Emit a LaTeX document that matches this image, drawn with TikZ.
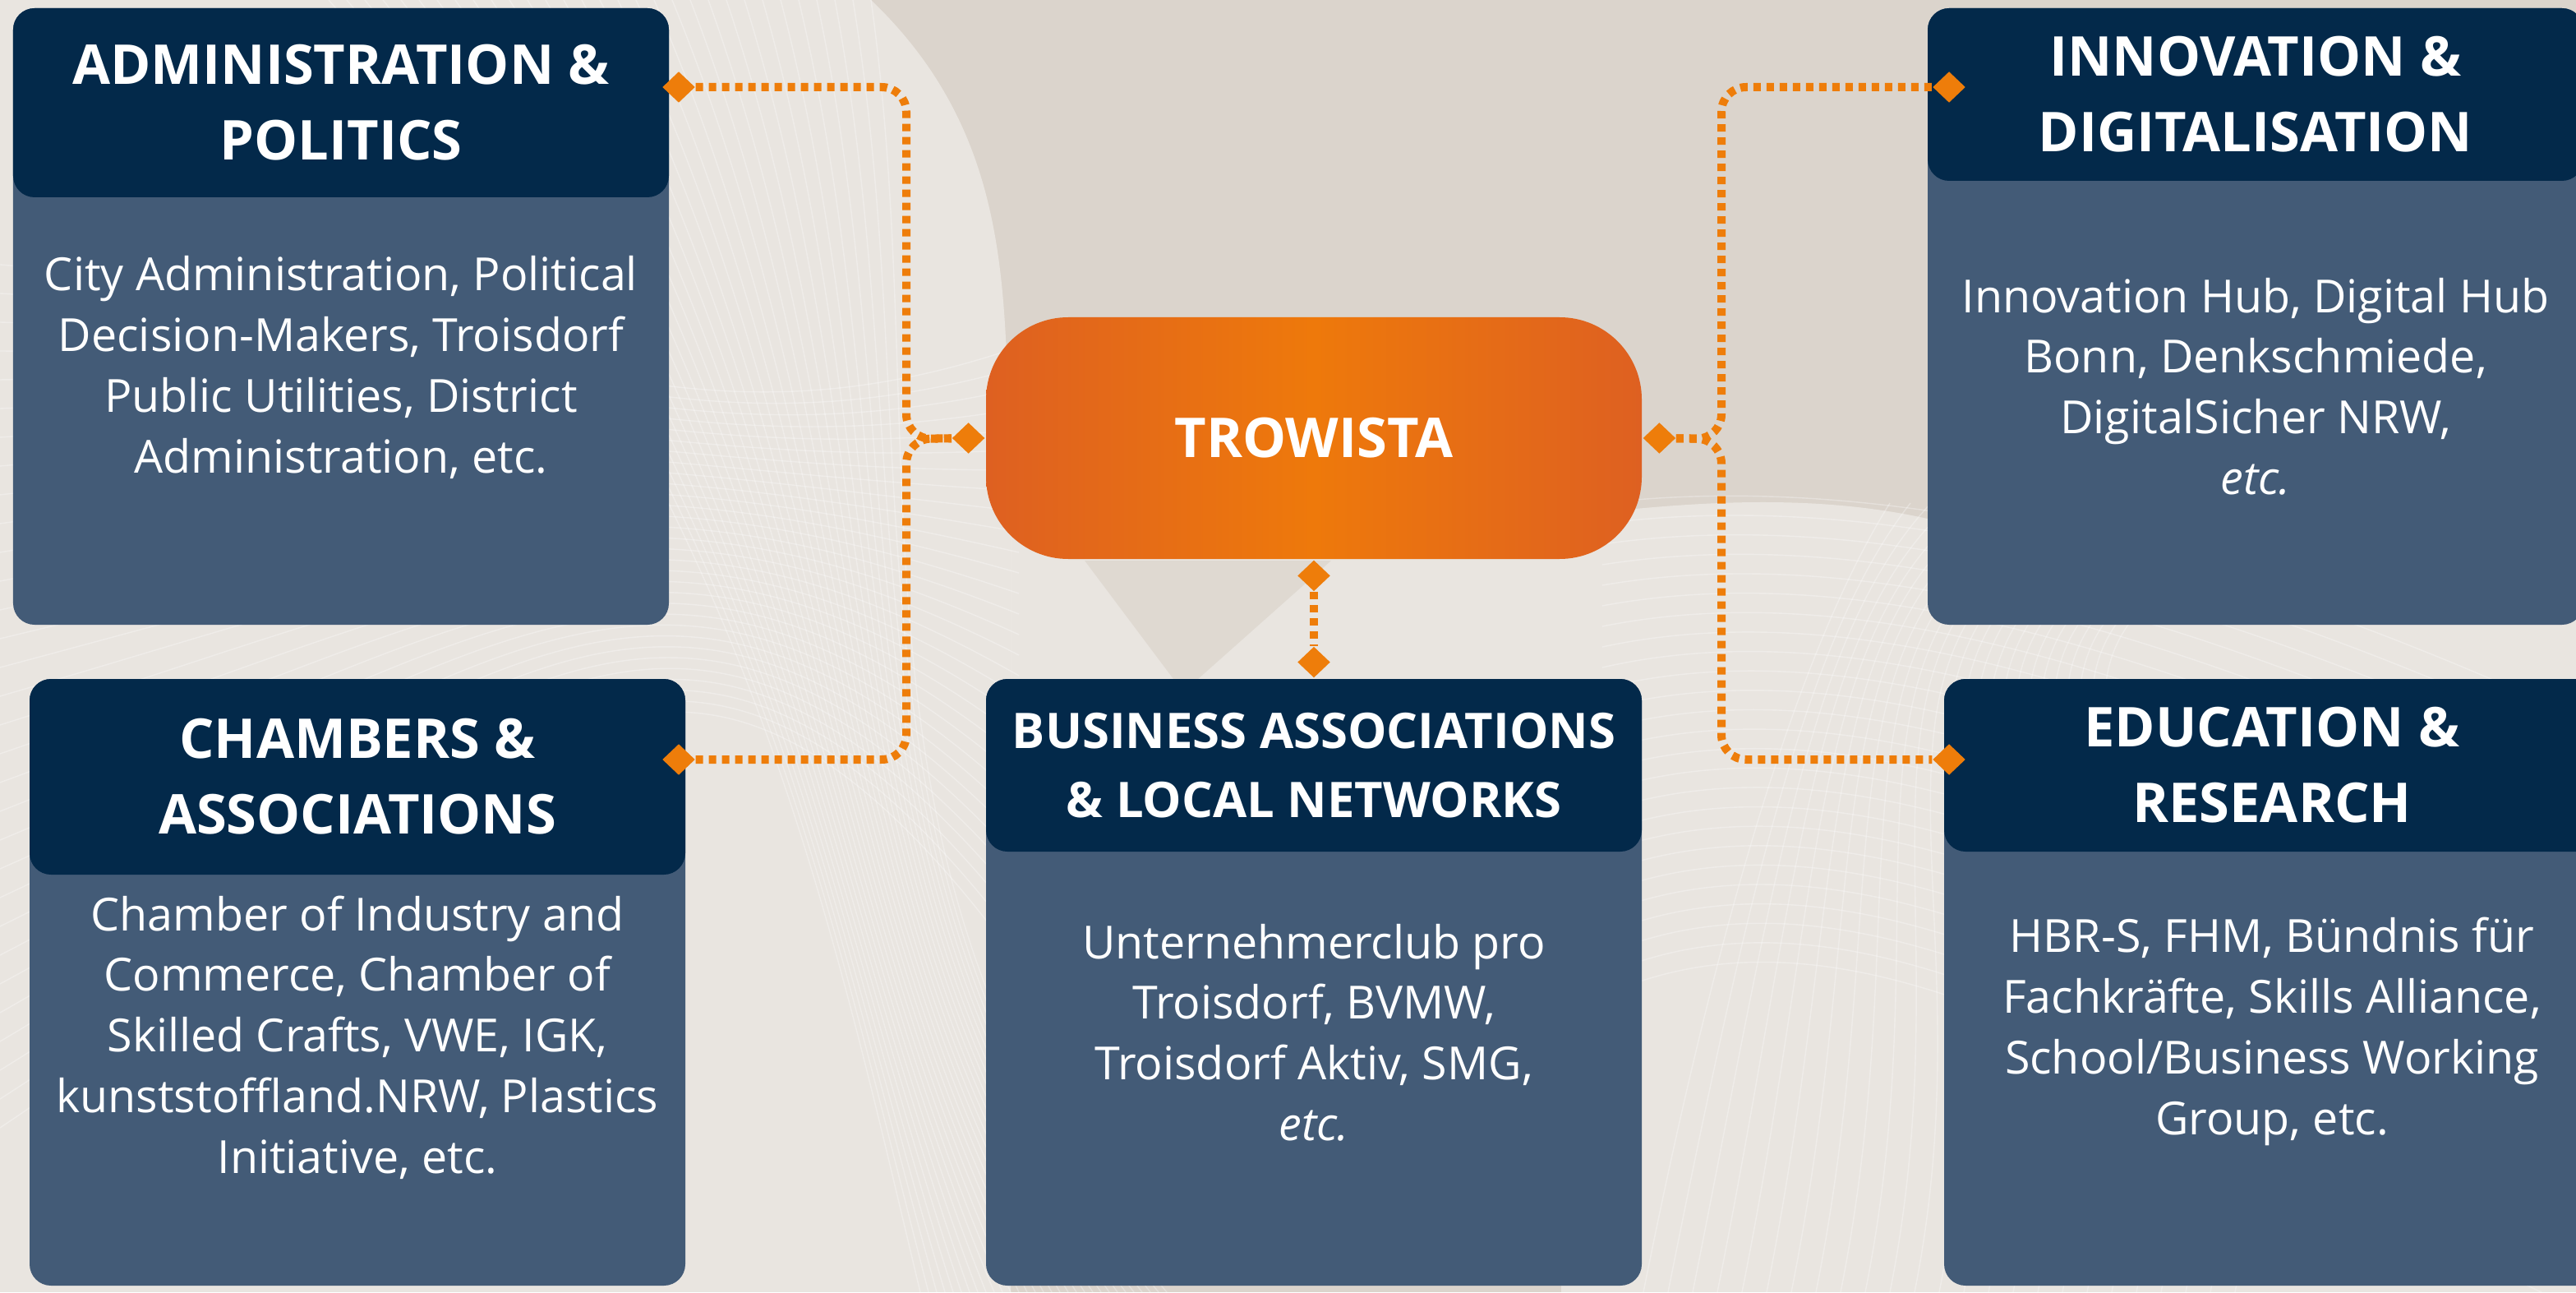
\documentclass[tikz,border=0pt]{standalone}
\usepackage{fontspec}
\setmainfont{Open Sans}
\usetikzlibrary{positioning, shapes.geometric}
\definecolor{navy}{HTML}{03294A}
\definecolor{slate}{HTML}{435B77}
\definecolor{sand}{HTML}{DBD4CC}
\definecolor{tro}{HTML}{EE7D0A}
\definecolor{troedge}{HTML}{DE6021}
\definecolor{tromid}{HTML}{EE790B}

\begin{document}
\begin{tikzpicture}[
  body/.style = {fill=slate, rounded corners=0.26cm, minimum width=7.98cm, inner sep=0},
  head/.style = {fill=navy, rounded corners=0.26cm, minimum width=7.98cm, text=white, align=center,
                 font=\bfseries\fontsize{19}{26.2}\selectfont, inner sep=0},
  txt/.style = {text=white, align=center, font=\fontsize{15.8}{21}\selectfont},
  dia/.style = {diamond, fill=tro, inner sep=0, minimum width=0.4cm, minimum height=0.38cm},
  link/.style = {draw=tro, line width=0.1cm, dash pattern=on 0.09cm off 0.07cm, rounded corners=0.3cm},
  mesh/.style = {white, opacity=0.3, line width=0.4pt},
  glow/.style = {white, opacity=0.4}]
\clip (0,0) rectangle (31.35,15.72);
\fill[sand] (0,0) rectangle (31.35,15.72);

% background wave
\fill[glow] (0,15.72) -- (10.6,15.72) .. controls (12.4,14) and (12.2,12) .. (12.3,10) -- (12.3,0) -- (0,0) -- cycle;
\fill[glow] (12.3,9.2) .. controls (16,8.4) and (20,10.2) .. (23.5,9.4) -- (31.35,8.2) -- (31.35,0) -- (19,0) -- (19,7.4) -- (12.3,7.4) -- cycle;
\fill[sand, opacity=0.7] (13.2,8.9) -- (16.2,8.9) -- (14.4,7.3) -- cycle;
\foreach \k in {0,...,30}
  \draw[mesh] (4+0.22*\k,15.72) .. controls (9+0.08*\k,10) and (10,5) .. (11.2+0.1*\k,0);
\foreach \k in {0,...,30}
  \draw[mesh] (0,2+0.35*\k) .. controls (6,6+0.2*\k) and (8,10) .. (12.4,4+0.25*\k);
\foreach \k in {0,...,24}
  \draw[mesh] (19.5,9.6-0.25*\k) .. controls (23,10-0.2*\k) and (27,9-0.3*\k) .. (31.35,7-0.3*\k);
\foreach \k in {0,...,24}
  \draw[mesh] (20+0.3*\k,0) .. controls (21+0.3*\k,5) and (22,8) .. (23+0.25*\k,9.6);

% boxes
\node[body, minimum height=7.5cm] (adminbox) at (4.15,11.87) {};
\node[head, minimum height=2.3cm] (admin) at (4.15,14.47) {ADMINISTRATION \&\\POLITICS};
\node[txt] (admintxt) at (4.15,11.25) {City Administration, Political\\Decision-Makers, Troisdorf\\Public Utilities, District\\Administration, etc.};

\node[body, minimum height=7.38cm] (chambox) at (4.35,3.77) {};
\node[head, minimum height=2.38cm] (cham) at (4.35,6.27) {CHAMBERS \&\\ASSOCIATIONS};
\node[txt] (chamtxt) at (4.35,3.1) {Chamber of Industry and\\Commerce, Chamber of\\Skilled Crafts, VWE, IGK,\\kunststoffland.NRW, Plastics\\Initiative, etc.};

\node[body, minimum height=7.38cm] (busibox) at (15.99,3.77) {};
\node[head, minimum height=2.1cm, font=\bfseries\fontsize{17}{23.8}\selectfont] (busi) at (15.99,6.41) {BUSINESS ASSOCIATIONS\\\& LOCAL NETWORKS};
\node[txt] (busitxt) at (15.99,3.16) {Unternehmerclub pro\\Troisdorf, BVMW,\\Troisdorf Aktiv, SMG,\\\textit{etc.}};

\node[body, minimum height=7.5cm] (innobox) at (27.45,11.87) {};
\node[head, minimum height=2.1cm] (inno) at (27.45,14.57) {INNOVATION \&\\DIGITALISATION};
\node[txt] (innotxt) at (27.45,11.02) {Innovation Hub, Digital Hub\\Bonn, Denkschmiede,\\DigitalSicher NRW,\\\textit{etc.}};

\node[body, minimum height=7.38cm] (edubox) at (27.65,3.77) {};
\node[head, minimum height=2.1cm] (edu) at (27.65,6.41) {EDUCATION \&\\RESEARCH};
\node[txt] (edutxt) at (27.65,3.17) {HBR-S, FHM, Bündnis für\\Fachkräfte, Skills Alliance,\\School/Business Working\\Group, etc.};

\node[left color=troedge, right color=troedge, middle color=tromid, rounded corners=1cm,
      minimum width=7.98cm, minimum height=2.94cm, text=white,
      font=\bfseries\fontsize{19}{23}\selectfont] (trow) at (15.99,10.39) {TROWISTA};

% diamonds
\node[dia] (dTl) [left=0pt of trow] {};
\node[dia] (dTr) [right=0pt of trow] {};
\node[dia] (dTb) [below=0pt of trow] {};
\node[dia] (dB) [above=0pt of busi] {};
\node[dia] (dA) at (8.26,14.66) {};
\node[dia] (dC) at (8.26,6.48) {};
\node[dia] (dI) at (23.72,14.66) {};
\node[dia] (dE) at (23.72,6.48) {};
\coordinate (spl) at (11.03,10.38);
\coordinate (spr) at (20.95,10.38);

\draw[link] (dA) -| (spl) -- (dTl);
\draw[link] (dC) -| (spl) -- (dTl);
\draw[link] (dTr) -- (spr) |- (dI);
\draw[link] (dTr) -- (spr) |- (dE);
\draw[link] (dTb) -- (dB);
\end{tikzpicture}
\end{document}
